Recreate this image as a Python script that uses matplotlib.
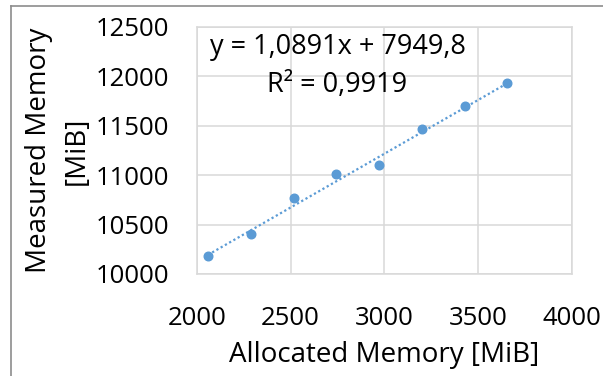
import matplotlib
matplotlib.use("Agg")
import matplotlib.pyplot as plt
from matplotlib.lines import Line2D
import numpy as np

# data
allocated = [2060, 2288, 2516, 2744, 2972, 3200, 3428, 3656]
measured = [10180, 10400, 10770, 11010, 11105, 11470, 11700, 11930]
fit_slope = 1.0891
fit_intercept = 7949.8
eq_text = "y = 1,0891x + 7949,8"
r2_text = "R² = 0,9919"
x_ticks = [2000, 2500, 3000, 3500, 4000]
y_ticks = [10000, 10500, 11000, 11500, 12000, 12500]

plt.rcParams['font.family'] = ['Open Sans', 'DejaVu Sans']
blue = "#5B9BD5"
grid_c = "#D9D9D9"

fig = plt.figure(figsize=(6.03, 3.76), dpi=100)
ax = fig.add_axes([0.3262, 0.2713, 0.6224, 0.6569])

# trend line
xs = np.array([allocated[0], allocated[-1]])
ax.plot(xs, fit_slope * xs + fit_intercept, linestyle=(0, (1, 1.2)), color=blue, lw=1.6, zorder=2)
ax.plot(allocated, measured, 'o', color=blue, ms=6.2, mec=blue, zorder=3)

ax.set_xlim(2000, 4000)
ax.set_ylim(10000, 12500)
ax.set_xticks(x_ticks)
ax.set_yticks(y_ticks)
ax.grid(True, color=grid_c, lw=1.1)
ax.set_axisbelow(True)
for s in ax.spines.values():
    s.set_color(grid_c)
    s.set_linewidth(1.1)
ax.tick_params(length=0, labelsize=18.5, colors="black")
ax.tick_params(axis='x', pad=23)
ax.tick_params(axis='y', pad=19.5)

ax.set_xlabel("Allocated Memory [MiB]", fontsize=20, labelpad=7)
ax.set_ylabel("Measured Memory\n[MiB]", fontsize=20, linespacing=1.45)
ax.yaxis.set_label_coords(-0.282, 0.5)

ax.text(0.375, 0.917, eq_text, transform=ax.transAxes, ha='center', va='center', fontsize=19.5)
ax.text(0.375, 0.765, r2_text, transform=ax.transAxes, ha='center', va='center', fontsize=19.5)

# chart area border (top and left edges visible)
fig.add_artist(Line2D([11 / 603, 11 / 603], [0, 1 - 6 / 376], transform=fig.transFigure, color="#8C8C8C", lw=1.2))
fig.add_artist(Line2D([11 / 603, 1], [1 - 6 / 376, 1 - 6 / 376], transform=fig.transFigure, color="#8C8C8C", lw=1.2))

fig.savefig("out.png", dpi=100)
